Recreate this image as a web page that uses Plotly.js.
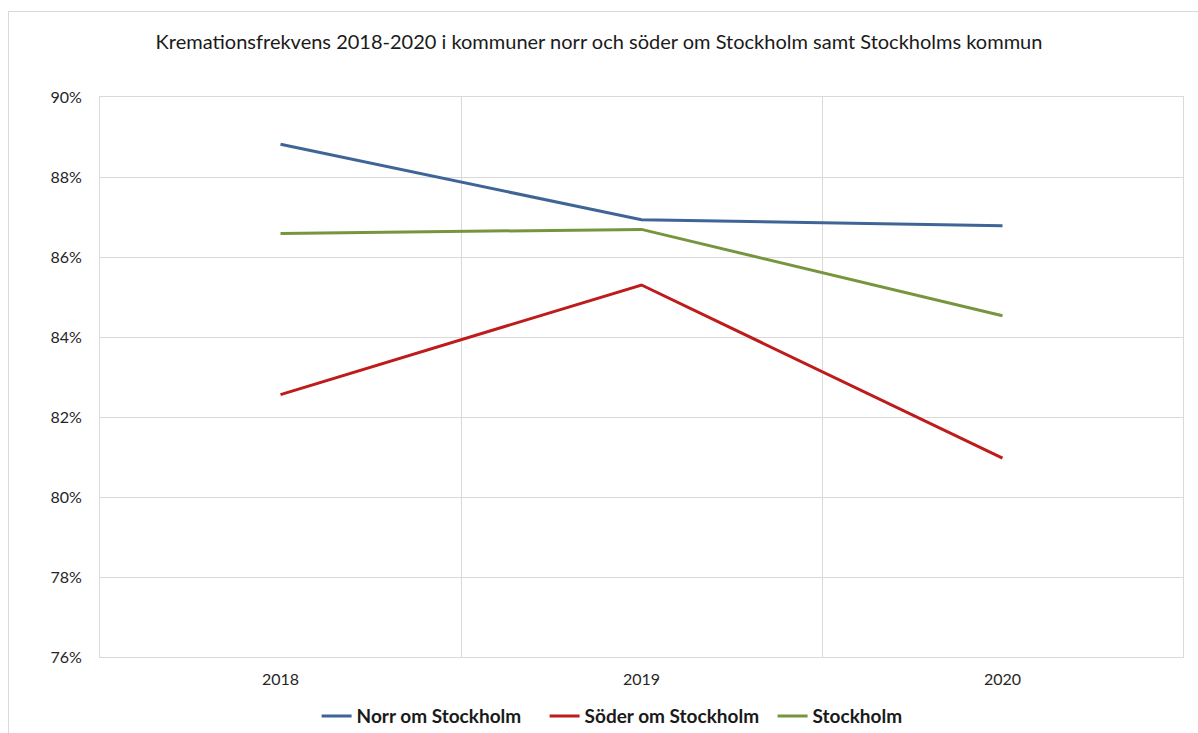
<!DOCTYPE html>
<html>
<head>
<meta charset="utf-8">
<script src="https://cdn.plot.ly/plotly-3.0.1.min.js"></script>
<style>
  html, body { margin: 0; padding: 0; background: #fff; }
  #wrap { position: relative; width: 1198px; height: 733px; overflow: hidden; }
  #frame { position: absolute; left: 8px; top: 11px; width: 1300px; height: 800px;
           border-left: 1px solid #d9d9d9; border-top: 1px solid #d9d9d9; pointer-events: none; }
  #chart { position: absolute; left: 0; top: 0; width: 1198px; height: 733px; }
</style>
</head>
<body>
<div id="wrap">
  <div id="chart"></div>
  <div id="frame"></div>
</div>
<script>
const years = ['2018', '2019', '2020'];
const norr = [88.82, 86.93, 86.78];
const soder = [82.56, 85.30, 80.97];
const stockholm = [86.59, 86.69, 84.53];
const seriesNames = ['Norr om Stockholm', 'Söder om Stockholm', 'Stockholm'];
const titleText = 'Kremationsfrekvens 2018-2020 i kommuner norr och söder om Stockholm samt Stockholms kommun';

const FONT = 'Lato, "Open Sans", sans-serif';
const colors = ['#3F6597', '#BE1B1B', '#77953D'];

const traces = [norr, soder, stockholm].map((vals, i) => ({
  type: 'scatter', mode: 'lines',
  x: years, y: vals, name: seriesNames[i],
  line: { color: colors[i], width: 3 },
  hoverinfo: 'x+y+name'
}));

const layout = {
  width: 1198, height: 733,
  margin: { l: 100, r: 15, t: 97, b: 76, autoexpand: false },
  paper_bgcolor: '#ffffff', plot_bgcolor: '#ffffff',
  font: { family: FONT, color: '#404040', size: 16 },
  title: { text: titleText, x: 0.5, xref: 'container', xanchor: 'center',
           y: 0.943, yref: 'container', yanchor: 'middle',
           font: { family: FONT, size: 20, color: '#1a1a1a' } },
  xaxis: {
    type: 'category', range: [-0.5, 2.5],
    tickson: 'boundaries', ticks: '', showgrid: true, gridcolor: '#d9d9d9', gridwidth: 1,
    showline: true, linecolor: '#d9d9d9', linewidth: 1, mirror: true,
    tickfont: { family: FONT, size: 16, color: '#262626' },
    ticklabelstandoff: 8,
    zeroline: false
  },
  yaxis: {
    range: [76, 90], dtick: 2, tick0: 76, ticksuffix: '%',
    showgrid: true, gridcolor: '#d9d9d9', gridwidth: 1,
    showline: true, linecolor: '#d9d9d9', linewidth: 1, mirror: true,
    ticks: '', tickfont: { family: FONT, size: 16, color: '#262626' },
    ticklabelstandoff: 14,
    zeroline: false
  },
  showlegend: true,
  legend: {
    orientation: 'h', x: 0.2, xanchor: 'left',
    yref: 'container', y: 0.023, yanchor: 'middle',
    font: { family: FONT, size: 19, color: '#1a1a1a', weight: 'bold' },
    itemwidth: 30, entrywidth: 183, bgcolor: 'rgba(0,0,0,0)'
  }
};

Plotly.newPlot('chart', traces, layout, { displayModeBar: false, staticPlot: true });
</script>
</body>
</html>
